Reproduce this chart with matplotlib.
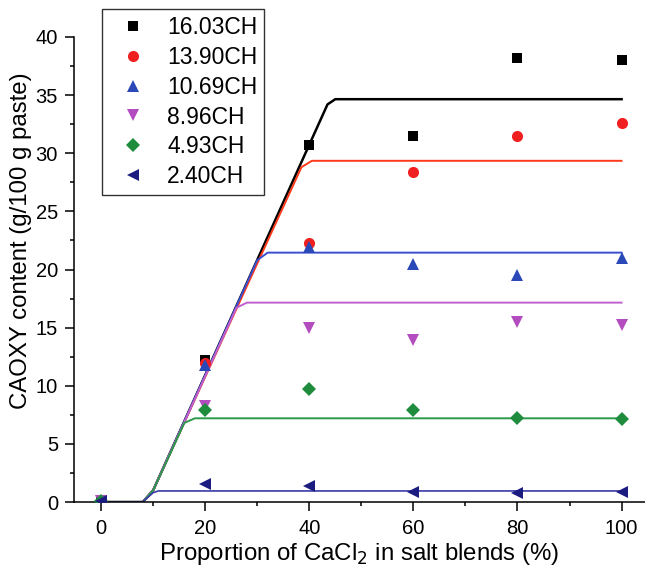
import matplotlib
matplotlib.use("Agg")
import matplotlib.pyplot as plt
from matplotlib.ticker import MultipleLocator

plt.rcParams['font.family'] = ['Liberation Sans', 'DejaVu Sans']

# measured points
blend = [0, 20, 40, 60, 80, 100]
ch1603 = [0.1, 12.2, 30.7, 31.5, 38.2, 38.0]
ch1390 = [0.1, 12.0, 22.3, 28.4, 31.5, 32.6]
ch1069 = [0.1, 11.8, 21.9, 20.5, 19.5, 21.0]
ch896 = [0.1, 8.3, 15.0, 13.9, 15.5, 15.2]
ch493 = [0.1, 7.9, 9.7, 7.95, 7.25, 7.15]
ch240 = [0.1, 1.55, 1.4, 0.9, 0.8, 0.85]

# model lines (vertices)
fit_x_1603 = [0, 8, 10, 43.5, 45, 100]
fit_y_1603 = [0, 0, 1.0, 34.2, 34.65, 34.65]
fit_x_1390 = [0, 8, 10, 38.5, 40.5, 100]
fit_y_1390 = [0, 0, 1.0, 28.8, 29.35, 29.35]
fit_x_1069 = [0, 8, 10, 30, 32, 100]
fit_y_1069 = [0, 0, 1.0, 20.8, 21.45, 21.45]
fit_x_896 = [0, 8, 10, 26, 28, 100]
fit_y_896 = [0, 0, 1.0, 16.7, 17.15, 17.15]
fit_x_493 = [0, 8, 10, 16, 18, 100]
fit_y_493 = [0, 0, 1.0, 6.8, 7.2, 7.2]
fit_x_240 = [0, 8, 10, 11, 100]
fit_y_240 = [0, 0, 0.8, 0.95, 0.95]

labels = ["16.03CH", "13.90CH", "10.69CH", "8.96CH", "4.93CH", "2.40CH"]

fig = plt.figure(figsize=(6.45, 5.77), dpi=100)
ax = fig.add_axes([74 / 645, 75 / 577, (645 - 74) / 645, 465 / 577])

series = [
    (ch1603, fit_x_1603, fit_y_1603, 's', 7, '#000000', '#000000', 1.8),
    (ch1390, fit_x_1390, fit_y_1390, 'o', 8, '#f02020', '#ff3a1a', 1.4),
    (ch1069, fit_x_1069, fit_y_1069, '^', 9, '#2a48b8', '#3a4fd0', 1.4),
    (ch896, fit_x_896, fit_y_896, 'v', 9, '#b24cbf', '#c060d0', 1.4),
    (ch493, fit_x_493, fit_y_493, 'D', 7, '#1e8c3c', '#2a9a4a', 1.4),
    (ch240, fit_x_240, fit_y_240, '<', 9, '#1c1c80', '#3a3aa8', 1.2),
]

handles = []
for vals, fx, fy, mk, ms, mc, lc, lw in series:
    ax.plot(fx, fy, color=lc, lw=lw, zorder=2)
    h, = ax.plot(blend, vals, linestyle='none', marker=mk, markersize=ms,
                 color=mc, markeredgewidth=0, zorder=3)
    handles.append(h)

ax.set_xlim(-5.2, 104.5)
ax.set_ylim(0, 40)
ax.xaxis.set_major_locator(MultipleLocator(20))
ax.xaxis.set_minor_locator(MultipleLocator(10))
ax.yaxis.set_major_locator(MultipleLocator(5))
ax.yaxis.set_minor_locator(MultipleLocator(2.5))
ax.spines['top'].set_visible(False)
ax.spines['right'].set_visible(False)
for s in ['left', 'bottom']:
    ax.spines[s].set_linewidth(1.1)
ax.tick_params(which='major', direction='out', length=6.5, width=1.1, labelsize=14.5)
ax.tick_params(axis='x', which='major', pad=6)
ax.tick_params(axis='y', which='major', pad=5)
ax.tick_params(which='minor', direction='out', length=3, width=1.1)

ax.set_xlabel("Proportion of CaCl$_2$ in salt blends (%)", fontsize=17.3, labelpad=2)
ax.set_ylabel("CAOXY content (g/100 g paste)", fontsize=17.3)
ax.yaxis.set_label_coords(-0.074, 0.563)

leg = fig.legend(handles, labels, loc='upper left', bbox_to_anchor=(102 / 645, 568 / 577),
                 borderaxespad=0, fontsize=16.5, labelspacing=0.3, handlelength=2.1,
                 handletextpad=0.45, borderpad=0.3, fancybox=False, framealpha=1)
leg.get_frame().set_edgecolor('#333333')
leg.get_frame().set_linewidth(1.0)

fig.savefig("out.png", dpi=100)
